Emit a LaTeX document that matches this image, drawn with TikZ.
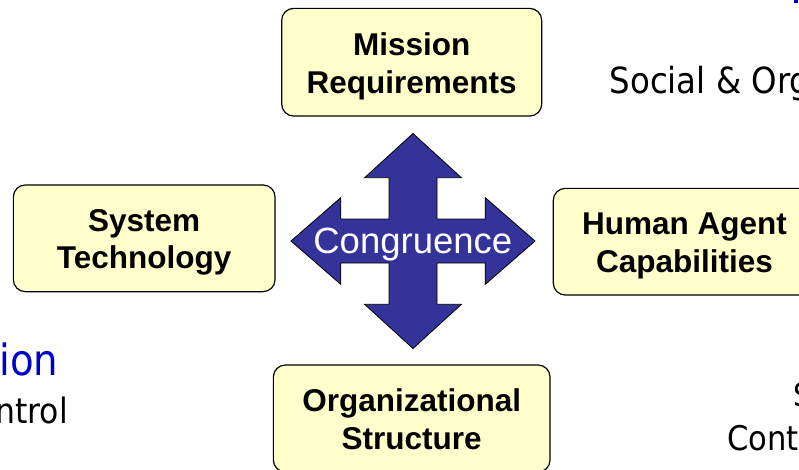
\documentclass[tikz,border=0pt]{standalone}
\usepackage{fontspec}
\setmainfont{Liberation Sans}
\newfontfamily\tah{DejaVu Sans}[FakeStretch=0.9]
\definecolor{boxfill}{RGB}{255,255,204}
\definecolor{crossfill}{RGB}{51,51,153}
\definecolor{titleblue}{RGB}{0,0,204}
\begin{document}
\begin{tikzpicture}[x=1pt,y=-1pt,
  factor/.style={draw=black, line width=1.2pt, fill=boxfill, rounded corners=12pt, inner sep=0pt},
  factortext/.style={align=center, font=\bfseries\fontsize{31.5}{37.5}\selectfont, inner sep=0pt},
  sidetext/.style={font=\tah\fontsize{36}{40}\selectfont, inner sep=0pt},
  crossarrow/.style={fill=crossfill, draw=black, line width=0.8pt, line join=miter}]
\useasboundingbox (0,0) rectangle (799,469);
\clip (0,0) rectangle (799,469);

% factor boxes
\node[factor, minimum width=260pt, minimum height=107.7pt] (mission) at (411.7,62.2) {};
\node[factortext] (missiontext) at ([yshift=-4pt]mission.center) {Mission\\Requirements};
\node[factor, minimum width=261.7pt, minimum height=106.7pt] (system) at (144.2,238.3) {};
\node[factortext] (systemtext) at ([yshift=-4pt]system.center) {System\\Technology};
\node[factor, minimum width=262.4pt, minimum height=106.7pt] (human) at (684.5,241.7) {};
\node[factortext] (humantext) at ([yshift=-4pt]human.center) {Human Agent\\Capabilities};
\node[factor, minimum width=276.7pt, minimum height=107pt] (org) at (411.7,418.5) {};
\node[factortext] (orgtext) at ([yshift=-0.5pt]org.center) {Organizational\\Structure};

% four-headed arrow
\path[crossarrow] (413,133.5) -- (461.4,177.7) -- (437,177.7) -- (437,219) -- (485.2,219)
  -- (485.2,197.6) -- (535,241) -- (485.2,284.4) -- (485.2,263) -- (437,263) -- (437,304.3)
  -- (461.4,304.3) -- (413,348.5) -- (364.6,304.3) -- (389,304.3) -- (389,263) -- (340.8,263)
  -- (340.8,284.4) -- (291,241) -- (340.8,197.6) -- (340.8,219) -- (389,219) -- (389,177.7)
  -- (364.6,177.7) -- cycle;
\node[font=\fontsize{36.5}{40}\selectfont, text=white, anchor=base, inner sep=0pt] (cong) at (412.8,253.3) {Congruence};

% cut-off side texts
\node[sidetext, anchor=base west] (social) at (609.5,93.5) {Social \& Org};
\node[sidetext, text=titleblue, font=\tah\fontsize{43}{46}\selectfont, anchor=base east] (ion) at (58.5,375) {ion};
\node[sidetext, font=\tah\fontsize{35}{40}\selectfont, anchor=base east] (ntrol) at (68,423.3) {ntrol};
\node[sidetext, font=\tah\fontsize{32}{36}\selectfont, anchor=base west] (sletter) at (793,406) {S};
\node[sidetext, font=\tah\fontsize{34}{38}\selectfont, anchor=base west] (cont) at (727,450) {Cont};
\fill[titleblue] (794,0) rectangle (798,2.5);
\end{tikzpicture}
\end{document}
